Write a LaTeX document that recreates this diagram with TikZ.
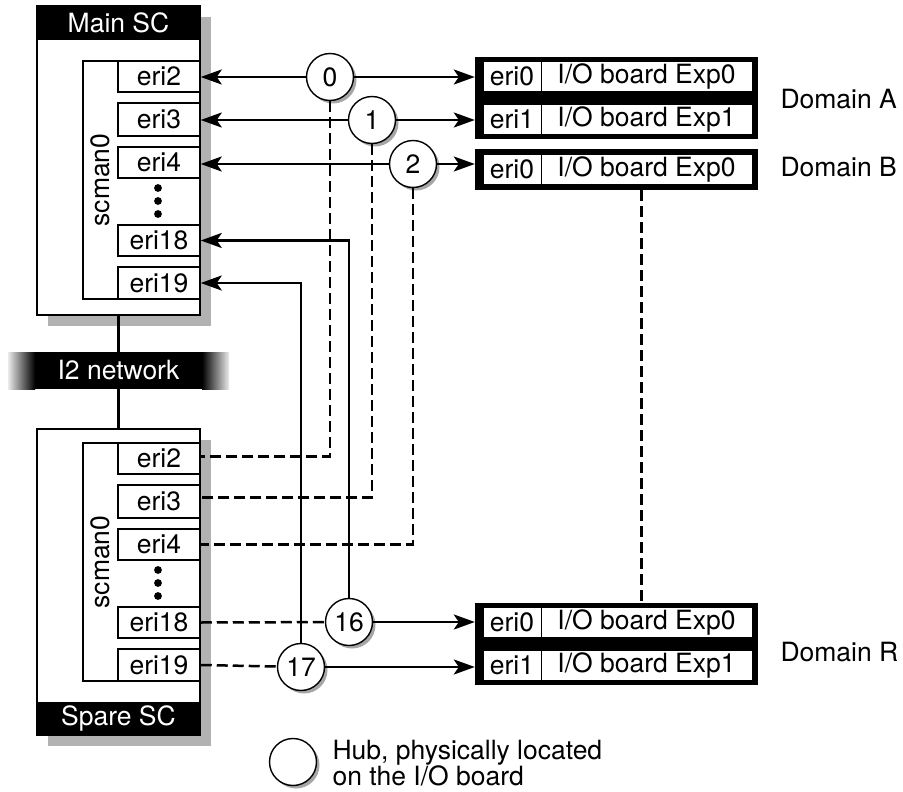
\documentclass[tikz,border=0pt]{standalone}
\usepackage{fontspec}
\setmainfont{TeX Gyre Heros}
\usetikzlibrary{positioning, arrows.meta, shadows}

\begin{document}
\begin{tikzpicture}[x=1pt, y=-1pt,
    every node/.style={font=\fontsize{26.5}{23}\selectfont},
    box/.style={draw, line width=1.5pt},
    scbox/.style={box, fill=white, inner sep=0pt, drop shadow={shadow xshift=11pt, shadow yshift=-11pt, fill=black!30, opacity=1}},
    bar/.style={fill=black, text=white, inner sep=0pt, minimum width=163pt},
    port/.style={box, fill=white, inner sep=0pt, minimum width=82pt},
    hub/.style={circle, draw, line width=1.4pt, fill=white, minimum size=47pt, inner sep=0pt, drop shadow={shadow xshift=3pt, shadow yshift=-3pt, fill=black!35, opacity=1}},
    board/.style={fill=black, inner sep=0pt, minimum width=283pt},
    cell/.style={draw, fill=white, line width=0.9pt, inner sep=0pt, minimum height=30pt},
    wire/.style={line width=2.2pt},
    conn/.style={line width=2.5pt, -{Stealth[length=21pt, width=15pt, inset=5pt]}},
    dashconn/.style={line width=2.5pt, dash pattern=on 11pt off 5pt}]
    \useasboundingbox (0,0) rectangle (903,792);

    % system controllers
    \node[scbox, minimum width=163pt, minimum height=309pt] (mainSC) at (118.5,160.5) {};
    \node[bar, minimum height=35pt, anchor=north] (mainHd) at (mainSC.north) {Main SC};
    \node[scbox, minimum width=163pt, minimum height=306pt] (spareSC) at (118.5,582) {};
    \node[bar, minimum height=34pt, anchor=south] (spareFt) at (spareSC.south) {Spare SC};

    \node[bar, minimum width=167pt, minimum height=37pt] (net) at (118.5,370.5) {I2 network};
    \shade[left color=black!8, right color=black] (8,352) rectangle (35,389);
    \shade[left color=black, right color=black!8] (202,352) rectangle (229,389);
    \draw[wire] (mainSC.south) -- (net.north);
    \draw[wire] (net.south) -- (spareSC.north);

    % scman0 blocks
    \foreach \p/\o in {m/0, s/382} {
        \draw[box] (83,61+\o) rectangle (200,299+\o);
        \node[rotate=90] (\p Scman) at (100.5,180+\o) {scman0};
        \foreach \n/\c/\h in {2/76.5/31, 3/119.5/33, 4/162.5/31, 18/240.5/31, 19/283/32}
            \node[port, minimum height=\h pt] (\p E\n) at (159,\c+\o) {eri\n};
        \foreach \d in {188,201,214}
            \fill (158,\d+\o) circle (3.9pt);
    }

    % I/O boards
    \node[board, minimum height=82pt] (boardA) at (616.5,98) {};
    \node[cell, minimum width=58pt] (aE0) at (512,76) {eri0};
    \node[cell, minimum width=211pt] (aX0) at (646.5,76) {I/O board Exp0};
    \node[cell, minimum width=58pt] (aE1) at (512,119) {eri1};
    \node[cell, minimum width=211pt] (aX1) at (646.5,119) {I/O board Exp1};

    \node[board, minimum height=41pt] (boardB) at (616.5,169.5) {};
    \node[cell, minimum width=58pt] (bE0) at (512,169.5) {eri0};
    \node[cell, minimum width=211pt] (bX0) at (646.5,169.5) {I/O board Exp0};

    \node[board, minimum height=82pt] (boardR) at (616.5,644) {};
    \node[cell, minimum width=58pt] (rE0) at (512,622) {eri0};
    \node[cell, minimum width=211pt] (rX0) at (646.5,622) {I/O board Exp0};
    \node[cell, minimum width=58pt] (rE1) at (512,665) {eri1};
    \node[cell, minimum width=211pt] (rX1) at (646.5,665) {I/O board Exp1};

    \node[anchor=west] (domA) at (777,99) {Domain A};
    \node[anchor=west] (domB) at (777,167) {Domain B};
    \node[anchor=west] (domR) at (777,652) {Domain R};

    % hubs
    \node[hub] (h0) at (330,77) {0};
    \node[hub] (h1) at (372,120) {1};
    \node[hub] (h2) at (413,164) {2};
    \node[hub] (h16) at (349,622) {16};
    \node[hub] (h17) at (301,667) {17};

    \draw[conn] (h0) -- (h0 -| mE2.east);
    \draw[conn] (h0) -- (h0 -| boardA.west);
    \draw[conn] (h1) -- (h1 -| mE3.east);
    \draw[conn] (h1) -- (h1 -| boardA.west);
    \draw[conn] (h2) -- (h2 -| mE4.east);
    \draw[conn] (h2) -- (h2 -| boardB.west);
    \draw[conn] (h16.north) |- (mE18.east);
    \draw[conn] (h17.north) |- (mE19.east);
    \draw[conn] (h16) -- (h16 -| boardR.west);
    \draw[conn] (h17) -- (h17 -| boardR.west);

    \draw[dashconn] (h0.south) |- ([yshift=2pt]sE2.east);
    \draw[dashconn] (h1.south) |- ([yshift=4pt]sE3.east);
    \draw[dashconn] (h2.south) |- (sE4.east);
    \draw[dashconn] (sE18.east) -- (h16);
    \draw[dashconn] (sE19.east) -- (h17);
    \draw[dashconn] ([xshift=-5pt]boardB.south -| bX0) -- ([xshift=-5pt]boardR.north -| bX0);

    % legend
    \node[hub] (legHub) at (293,762) {};
    \node[anchor=west, align=left] (legTxt) at (329,763) {Hub, physically located\\on the I/O board};
\end{tikzpicture}
\end{document}
